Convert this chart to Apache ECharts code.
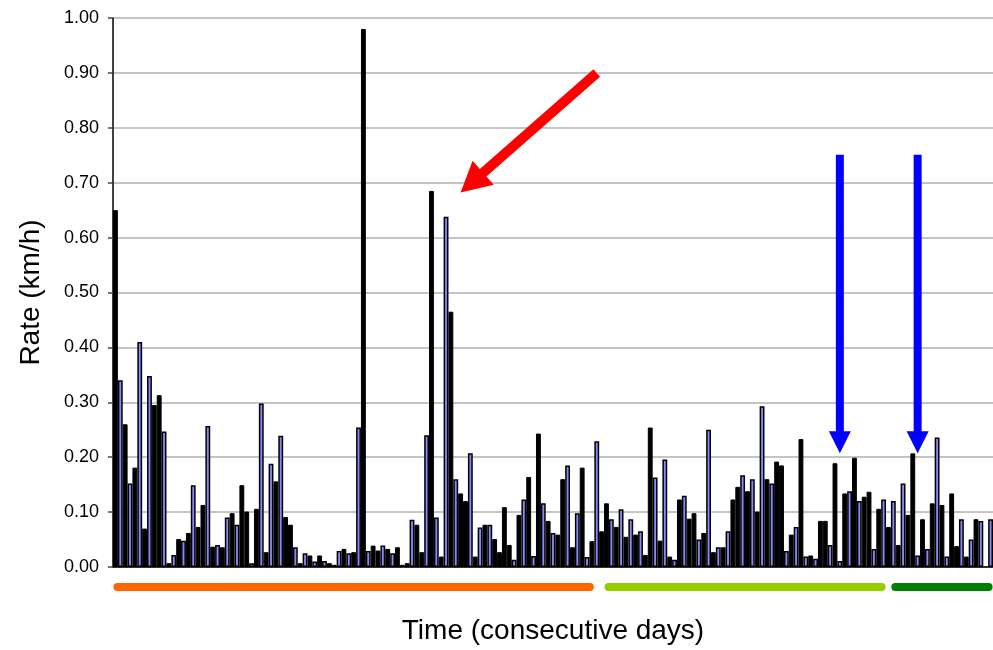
<!DOCTYPE html>
<html>
<head>
<meta charset="utf-8">
<script src="https://cdn.jsdelivr.net/npm/echarts@6/dist/echarts.min.js"></script>
<style>
  html, body { margin: 0; padding: 0; background: #fff; }
  #main { width: 993px; height: 650px; }
</style>
</head>
<body>
<div id="main"></div>
<script>
// daily rates, one slot per day; dark bars and light bars share the axis
var darkRates = [
  0.65, null, 0.26, null, 0.181, null, 0.07, null, 0.295, 0.313,
  null, 0.007, null, 0.051, null, 0.062, null, 0.073, 0.113, null,
  0.037, null, 0.036, null, 0.098, null, 0.149, 0.101, null, 0.106,
  null, 0.027, null, 0.156, null, 0.091, 0.077, null, 0.007, null,
  0.021, null, 0.021, null, 0.007, 0.004, null, 0.033, null, 0.027,
  null, 0.98, null, 0.039, 0.03, null, 0.033, null, 0.036, 0.004,
  0.007, null, 0.077, 0.027, null, 0.685, null, 0.019, null, 0.465,
  null, 0.134, 0.12, null, 0.019, null, 0.077, null, 0.051, 0.027,
  0.109, 0.04, null, 0.095, null, 0.164, null, 0.243, null, 0.084,
  null, 0.059, 0.16, null, 0.036, null, 0.181, null, 0.047, null,
  0.065, 0.116, null, 0.073, null, 0.055, null, 0.059, null, 0.022,
  0.254, null, 0.048, null, 0.019, null, 0.123, null, 0.088, 0.098,
  null, 0.062, null, 0.027, null, 0.036, null, 0.123, 0.146, null,
  0.138, null, 0.101, null, 0.16, null, 0.192, 0.185, null, 0.059,
  null, 0.233, null, 0.021, null, 0.084, 0.084, null, 0.189, null,
  0.134, null, 0.199, null, 0.128, 0.137, null, 0.106, null, 0.073,
  null, 0.04, null, 0.095, 0.207, null, 0.087, null, 0.116, null,
  0.113, null, 0.134, 0.038, null, 0.019, null, 0.087, null, null,
  null
];
var lightRates = [
  null, 0.34, null, 0.152, null, 0.41, null, 0.348, null, null,
  0.247, null, 0.022, null, 0.048, null, 0.149, null, null, 0.257,
  null, 0.04, null, 0.09, null, 0.077, null, null, 0.007, null,
  0.298, null, 0.188, null, 0.239, null, null, 0.036, null, 0.025,
  null, 0.01, null, 0.011, null, null, 0.029, null, 0.025, null,
  0.254, null, 0.029, null, null, 0.039, null, 0.025, null, null,
  null, 0.086, null, null, 0.24, null, 0.09, null, 0.638, null,
  0.16, null, null, 0.207, null, 0.072, null, 0.077, null, null,
  null, null, 0.013, null, 0.123, null, 0.02, null, 0.116, null,
  0.062, null, null, 0.185, null, 0.098, null, 0.018, null, 0.229,
  null, null, 0.087, null, 0.105, null, 0.087, null, 0.065, null,
  null, 0.163, null, 0.196, null, 0.013, null, 0.13, null, null,
  0.05, null, 0.25, null, 0.036, null, 0.065, null, null, 0.167,
  null, 0.16, null, 0.293, null, 0.152, null, null, 0.029, null,
  0.073, null, 0.019, null, 0.015, null, null, 0.04, null, 0.011,
  null, 0.138, null, 0.12, null, null, 0.033, null, 0.123, null,
  0.12, null, 0.152, null, null, 0.021, null, 0.033, null, 0.236,
  null, 0.019, null, null, 0.087, null, 0.05, null, 0.084, null,
  0.087
];
var days = [];
for (var d = 1; d <= darkRates.length; d++) days.push(d);
var yTicks = [0, 0.1, 0.2, 0.3, 0.4, 0.5, 0.6, 0.7, 0.8, 0.9, 1.0];
// periods under the axis, as day ranges (1-based)
var periods = [[1, 99], [102, 159], [161, 181]];

var chart = echarts.init(document.getElementById('main'));
var font = 'Liberation Sans, Arial, sans-serif';

var option = {
  animation: false,
  backgroundColor: '#fff',
  grid: { left: 113, right: 0, top: 18, bottom: 81 },
  xAxis: {
    type: 'category',
    data: days,
    boundaryGap: true,
    name: 'Time (consecutive days)',
    nameLocation: 'middle',
    nameGap: 50,
    nameTextStyle: { fontFamily: font, fontSize: 28, color: '#000' },
    axisLine: { lineStyle: { color: '#000', width: 1.5 } },
    axisTick: { show: false },
    axisLabel: { show: false },
    splitLine: { show: false }
  },
  yAxis: {
    type: 'value',
    min: yTicks[0],
    max: yTicks[yTicks.length - 1],
    interval: 0.1,
    name: 'Rate (km/h)',
    nameLocation: 'middle',
    nameGap: 68,
    nameTextStyle: { fontFamily: font, fontSize: 28, color: '#000' },
    axisLine: { show: true, lineStyle: { color: '#000', width: 1.5 } },
    axisTick: { show: true, length: 5, lineStyle: { color: '#444', width: 1.5 } },
    axisLabel: {
      fontFamily: font, fontSize: 18, color: '#000', margin: 14,
      formatter: function (v) { return v.toFixed(2); }
    },
    splitLine: { lineStyle: { color: '#c4c4c4', width: 2 } }
  },
  series: [
    {
      name: 'dark',
      type: 'bar',
      data: darkRates,
      barCategoryGap: '0%',
      barGap: '-100%',
      itemStyle: { color: '#000', borderColor: '#000', borderWidth: 1 }
    },
    {
      name: 'light',
      type: 'bar',
      data: lightRates,
      barCategoryGap: '0%',
      barGap: '-100%',
      itemStyle: { color: '#8888f8', borderColor: '#000', borderWidth: 1.5 }
    }
  ]
};
chart.setOption(option);

function px(idx, val) {
  return chart.convertToPixel({ seriesIndex: 0 }, [idx, val]);
}

function arrowShape(t, p, shaftW, headW, headL) {
  var dx = p[0] - t[0], dy = p[1] - t[1];
  var len = Math.sqrt(dx * dx + dy * dy);
  var ux = dx / len, uy = dy / len;
  var nx = -uy, ny = ux;
  var bx = p[0] - ux * headL, by = p[1] - uy * headL;
  return [
    [t[0] + nx * shaftW / 2, t[1] + ny * shaftW / 2],
    [bx + nx * shaftW / 2, by + ny * shaftW / 2],
    [bx + nx * headW / 2, by + ny * headW / 2],
    [p[0], p[1]],
    [bx - nx * headW / 2, by - ny * headW / 2],
    [bx - nx * shaftW / 2, by - ny * shaftW / 2],
    [t[0] - nx * shaftW / 2, t[1] - ny * shaftW / 2]
  ];
}

var graphics = [];
var periodColors = ['#ff6600', '#99cc00', '#008000'];
var axisY = px(0, 0)[1];
periods.forEach(function (pr, i) {
  var x1 = px(pr[0] - 1, 0)[0] + 2;
  var x2 = px(pr[1] - 1, 0)[0] - 2;
  graphics.push({
    type: 'line',
    shape: { x1: x1, y1: axisY + 20, x2: x2, y2: axisY + 20 },
    style: { stroke: periodColors[i], lineWidth: 8, lineCap: 'round' }
  });
});

// red arrow and the two blue arrows
graphics.push({
  type: 'polygon',
  shape: { points: arrowShape(px(99, 0.9), px(71, 0.682), 10, 32, 30) },
  style: { fill: '#ff0000' }
});
[149, 165].forEach(function (idx) {
  graphics.push({
    type: 'polygon',
    shape: { points: arrowShape(px(idx, 0.751), px(idx, 0.207), 8, 22, 22) },
    style: { fill: '#0000ff' }
  });
});

chart.setOption({ graphic: graphics });
</script>
</body>
</html>
